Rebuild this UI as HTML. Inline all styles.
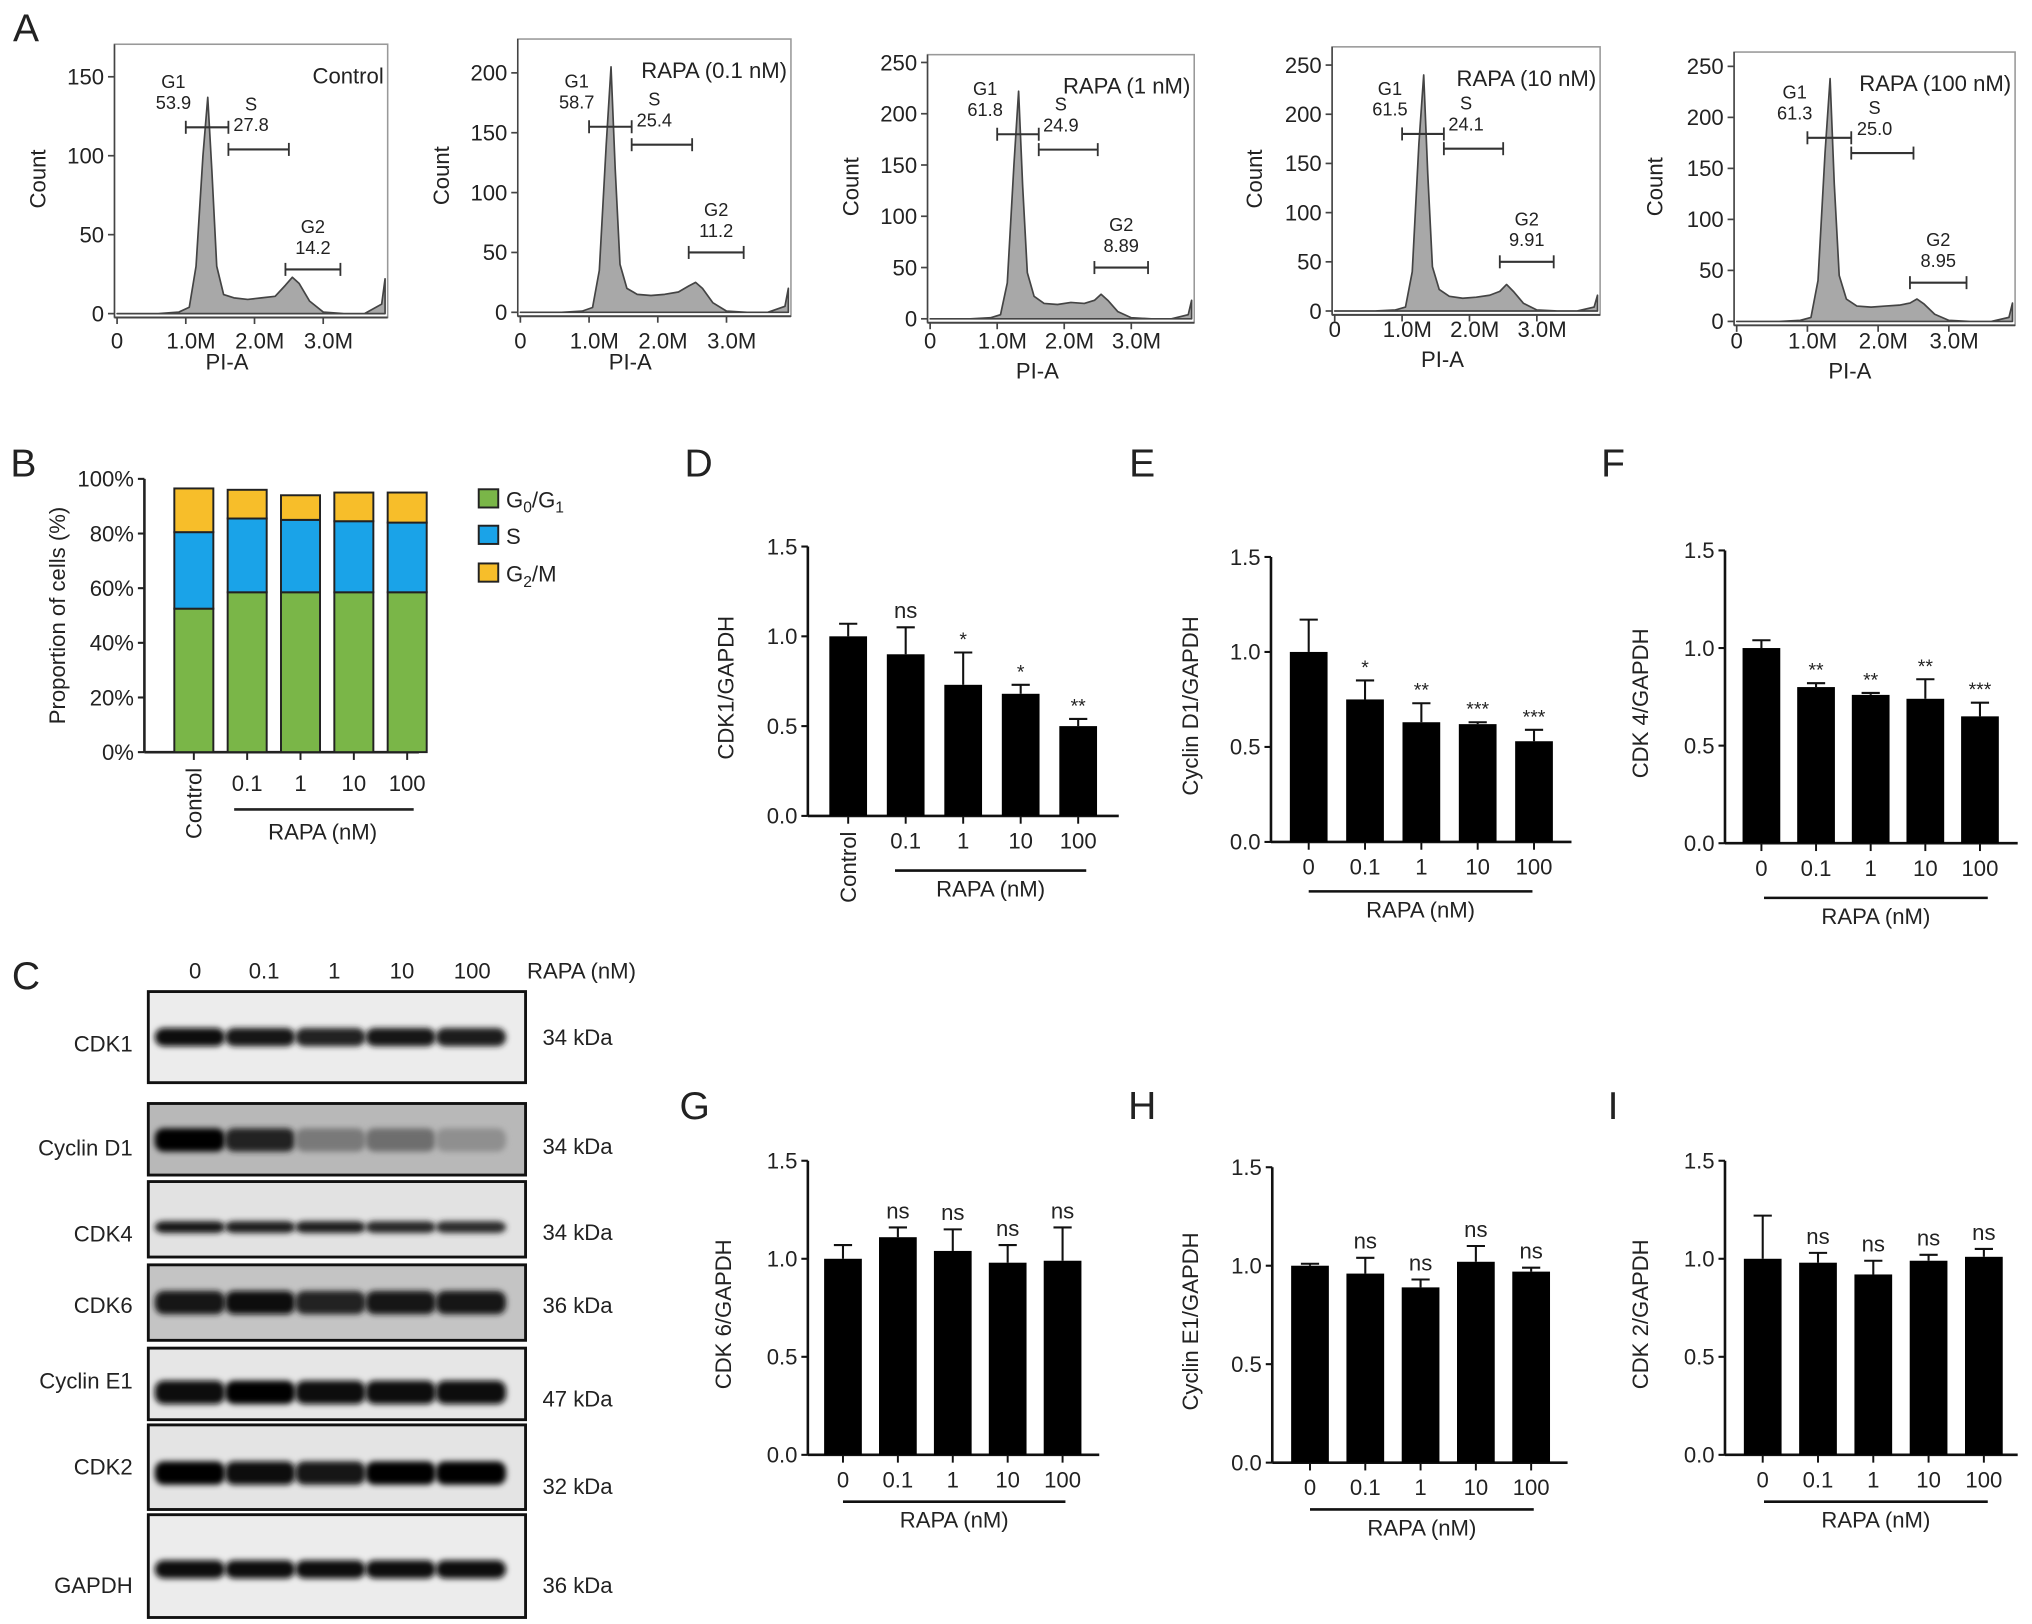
<!DOCTYPE html>
<html><head><meta charset="utf-8"><style>
html,body{margin:0;padding:0;background:#fff}
svg{display:block}
text{font-family:"Liberation Sans",Arial,sans-serif;fill:#222}
</style></head><body>
<svg id="fig" width="2032" height="1624" viewBox="0 0 1562 1248" preserveAspectRatio="none" xmlns="http://www.w3.org/2000/svg">
<defs><filter id="blur" x="-20%" y="-50%" width="140%" height="200%"><feGaussianBlur stdDeviation="2.2"/></filter></defs>
<g id="root"></g>
</svg>
<script>
// ---- Panel A data ----
const piPos = [0,0.6,0.9,1.05,1.15,1.25,1.32,1.38,1.45,1.55,1.7,1.9,2.1,2.3,2.45,2.55,2.65,2.8,3.0,3.3,3.6,3.85,3.9];
const histControl = [0,0,1,4,30,100,137,90,30,12,10,9,10,11,18,23,19,8,1,0,0,6,22];
const hist01 = [0,0,1,4,35,140,205,120,40,20,15,14,15,17,22,25,20,8,1,0,0,5,20];
const hist1 = [0,0,1,4,35,150,222,130,45,22,15,14,16,15,18,24,18,7,1,0,0,4,18];
const hist10 = [0,0,1,4,40,170,240,140,45,22,15,13,14,16,20,27,20,8,1,0,0,4,16];
const hist100 = [0,0,1,4,40,165,238,135,45,22,15,14,15,16,18,22,17,7,1,0,0,4,18];
const histTitles = ["Control","RAPA (0.1 nM)","RAPA (1 nM)","RAPA (10 nM)","RAPA (100 nM)"];
const g1Vals = ["53.9","58.7","61.8","61.5","61.3"];
const sVals = ["27.8","25.4","24.9","24.1","25.0"];
const g2Vals = ["14.2","11.2","8.89","9.91","8.95"];
const histTicks = [[0,50,100,150],[0,50,100,150,200],[0,50,100,150,200,250],[0,50,100,150,200,250],[0,50,100,150,200,250]];
const xTickVals = [0,1,2,3];
const xTickLabels = ["0","1.0M","2.0M","3.0M"];
// ---- Panel B data ----
const bCats = ["Control","0.1","1","10","100"];
const bG1 = [52.5,58.5,58.5,58.5,58.5];
const bS = [28,27,26.5,26,25.5];
const bG2 = [16,10.5,9,10.5,11];
// ---- Bar panels D-I data ----
const doseCats = ["0","0.1","1","10","100"];
const cdk1 = [1.0,0.9,0.73,0.68,0.5], cdk1Err=[0.07,0.15,0.18,0.05,0.04], cdk1Sig=["","ns","*","*","**"];
const cycD1 = [1.0,0.75,0.63,0.62,0.53], cycD1Err=[0.17,0.1,0.1,0.01,0.06], cycD1Sig=["","*","**","***","***"];
const cdk4 = [1.0,0.8,0.76,0.74,0.65], cdk4Err=[0.04,0.02,0.01,0.1,0.07], cdk4Sig=["","**","**","**","***"];
const cdk6 = [1.0,1.11,1.04,0.98,0.99], cdk6Err=[0.07,0.05,0.11,0.09,0.17], cdk6Sig=["","ns","ns","ns","ns"];
const cycE1 = [1.0,0.96,0.89,1.02,0.97], cycE1Err=[0.01,0.08,0.04,0.08,0.02], cycE1Sig=["","ns","ns","ns","ns"];
const cdk2 = [1.0,0.98,0.92,0.99,1.01], cdk2Err=[0.22,0.05,0.07,0.03,0.04], cdk2Sig=["","ns","ns","ns","ns"];
const barTicks = [0,0.5,1.0,1.5];
// ---- Blot data (band darkness 0-1) ----
const blotNames = ["CDK1","Cyclin D1","CDK4","CDK6","Cyclin E1","CDK2","GAPDH"];
const blotKda = ["34 kDa","34 kDa","34 kDa","36 kDa","47 kDa","32 kDa","36 kDa"];
const blotCDK1=[0.95,0.92,0.85,0.92,0.88], blotD1=[1,0.85,0.45,0.5,0.35], blotCDK4=[0.9,0.88,0.88,0.82,0.8], blotCDK6=[0.9,0.95,0.85,0.92,0.9], blotE1=[0.97,0.98,0.95,0.95,0.97], blotCDK2=[0.98,0.95,0.92,0.98,0.98], blotGAPDH=[0.95,0.93,0.93,0.93,0.97];

const NS="http://www.w3.org/2000/svg";
const root=document.getElementById('root');
function el(tag,attrs,parent,txt){const e=document.createElementNS(NS,tag);for(const k in attrs)e.setAttribute(k,attrs[k]);if(txt!==undefined)e.textContent=txt;(parent||root).appendChild(e);return e;}
function txt(x,y,s,size,parent,anchor,extra){const a={x:x,y:y,'font-size':size,'text-anchor':anchor||'middle'};if(extra)for(const k in extra)a[k]=extra[k];return el('text',a,parent,s);}

// panel letters
[["A",20,32],["B",18,366],["C",20,760],["D",537,366],["E",878,366],["F",1240,366],["G",534,860],["H",878,860],["I",1240,860]].forEach(p=>{
  const t=txt(p[1],p[2],p[0],30,root,'middle');
  
  
});

// ---- Panel A ----
const histData=[histControl,hist01,hist1,hist10,hist100];
const histGeom=[
 {l:88,r:298,t:34,y0:241,ymax:150,ytop:59,xl:268,pil:284,cx:35},
 {l:398,r:608,t:30,y0:240,ymax:200,ytop:56,xl:268,pil:284,cx:345},
 {l:713,r:918,t:42,y0:245,ymax:250,ytop:48,xl:268,pil:291,cx:660},
 {l:1024,r:1230,t:36,y0:239,ymax:250,ytop:50,xl:259,pil:282,cx:970},
 {l:1333,r:1549,t:40,y0:247,ymax:250,ytop:51,xl:268,pil:291,cx:1278}];
histGeom.forEach((g,i)=>{
  const G=el('g',{});
  
  
  const pxPerM=(g.r-g.l-4)/3.9;
  const X=v=>g.l+2+v*pxPerM;
  const Y=v=>g.y0-(v/g.ymax)*(g.y0-g.ytop);
  el('rect',{x:g.l,y:g.t,width:g.r-g.l,height:g.y0+3-g.t,fill:'none',stroke:'#999','stroke-width':1.2},G);
  const d=histData[i];
  let p='M'+X(piPos[0])+','+Y(0);
  piPos.forEach((v,k)=>{p+=' L'+X(v).toFixed(1)+','+Y(d[k]).toFixed(1);});
  p+=' L'+X(piPos[piPos.length-1])+','+Y(0)+'Z';
  const path=el('path',{d:p,fill:'#a8a8a8',stroke:'#444','stroke-width':1.3,'stroke-linejoin':'round'},G);
  
  
  el('line',{x1:g.l,y1:g.y0+3,x2:g.r,y2:g.y0+3,stroke:'#444','stroke-width':1.5},G);
  el('line',{x1:g.l,y1:g.t,x2:g.l,y2:g.y0+3,stroke:'#444','stroke-width':1.2},G);
  histTicks[i].forEach(t=>{
    el('line',{x1:g.l-5,y1:Y(t),x2:g.l,y2:Y(t),stroke:'#444','stroke-width':1.3},G);
    txt(g.l-8,Y(t)+6,String(t),17,G,'end');
  });
  xTickVals.forEach((v,k)=>{
    el('line',{x1:X(v),y1:g.y0+3,x2:X(v),y2:g.y0+8,stroke:'#444','stroke-width':1.3},G);
    txt(X(v)+(k?4:0),g.xl,xTickLabels[k],17,G,'middle');
  });
  txt(X(1.6),g.pil,'PI-A',17,G,'middle');
  txt(g.cx,(g.t+g.y0)/2,'Count',17,G,'middle',{transform:'rotate(-90 '+g.cx+' '+(g.t+g.y0)/2+')'});
  txt(g.r-3,g.t+30,histTitles[i],17,G,'end');
  const gy1=Y(i==0?118:(i==1?155:180));
  const gy2=Y(i==0?104:(i==1?140:165)), gy3=Y(i==0?28:(i==1?50:(i==4?38:50)));
  const gate=(a,b,y)=>{el('line',{x1:X(a),y1:y,x2:X(b),y2:y,stroke:'#333','stroke-width':1.6},G);el('line',{x1:X(a),y1:y-5,x2:X(a),y2:y+5,stroke:'#333','stroke-width':1.4},G);el('line',{x1:X(b),y1:y-5,x2:X(b),y2:y+5,stroke:'#333','stroke-width':1.4},G);};
  gate(1.0,1.62,gy1); gate(1.62,2.5,gy2); gate(2.45,3.25,gy3);
  txt(X(0.82),gy1-30,'G1',14,G,'middle'); txt(X(0.82),gy1-14,g1Vals[i],14,G,'middle');
  txt(X(1.95),gy2-30,'S',14,G,'middle'); txt(X(1.95),gy2-14,sVals[i],14,G,'middle');
  txt(X(2.85),gy3-28,'G2',14,G,'middle'); txt(X(2.85),gy3-12,g2Vals[i],14,G,'middle');
});

// ---- Panel B ----
(function(){
  const G=el('g',{});
  
  
  const ax=111,y0=578,y100=368,x0=149,step=41,bw=30;
  const Y=v=>y0-(v/100)*(y0-y100);
  const X=i=>x0+i*step;
  el('line',{x1:ax,y1:y0,x2:322,y2:y0,stroke:'#222','stroke-width':2},G);
  el('line',{x1:ax,y1:y0,x2:ax,y2:y100,stroke:'#222','stroke-width':2},G);
  [0,20,40,60,80,100].forEach(t=>{el('line',{x1:ax-5,y1:Y(t),x2:ax,y2:Y(t),stroke:'#222','stroke-width':1.6},G);txt(ax-8,Y(t)+6,t+'%',17,G,'end');});
  txt(50,473,'Proportion of cells (%)',17,G,'middle',{transform:'rotate(-90 50 473)'});
  const cols=['#7ab648','#1aa3e8','#f7be2a'];
  bCats.forEach((c,i)=>{
    let base=0;
    [[bG1,0,'g0-g1'],[bS,1,'s'],[bG2,2,'g2-m']].forEach(s=>{
      const v=s[0][i];
      const r=el('rect',{x:X(i)-bw/2,y:Y(base+v),width:bw,height:Y(base)-Y(base+v),fill:cols[s[1]],stroke:'#222','stroke-width':1.5},G);
      
      
      base+=v;
    });
    el('line',{x1:X(i),y1:y0,x2:X(i),y2:y0+6,stroke:'#222','stroke-width':1.5},G);
    if(i==0)txt(X(i)+6,y0+12,c,17,G,'end',{transform:'rotate(-90 '+(X(i)+6)+' '+(y0+12)+')'});
    else txt(X(i),y0+30,c,17,G,'middle');
  });
  el('line',{x1:180,y1:622,x2:318,y2:622,stroke:'#222','stroke-width':2},G);
  txt(248,645,'RAPA (nM)',17,G,'middle');
  [383,411,440].forEach((y,k)=>{
    const r=el('rect',{x:368,y:y-7,width:15,height:14,fill:cols[k],stroke:'#222','stroke-width':1.5},G);
    
    
    const t=el('text',{x:389,y:y+7,'font-size':17},G);
    
    
    if(k==0){t.innerHTML='G<tspan font-size="12" dy="4">0</tspan><tspan dy="-4">/G</tspan><tspan font-size="12" dy="4">1</tspan>';}
    else if(k==1){t.textContent='S';}
    else {t.innerHTML='G<tspan font-size="12" dy="4">2</tspan><tspan dy="-4">/M</tspan>';}
  });
})();

// ---- Bar panels ----
function barPanel(name,vals,errs,sigs,g){
  const G=el('g',{});
  
  
  const Y=v=>g.y0-(v/1.5)*(g.y0-g.ytop);
  const X=i=>g.x0+i*g.step;
  const bw=29;
  el('line',{x1:g.ax,y1:g.y0,x2:g.xend,y2:g.y0,stroke:'#111','stroke-width':2},G);
  el('line',{x1:g.ax,y1:g.y0,x2:g.ax,y2:g.ytop,stroke:'#111','stroke-width':2},G);
  barTicks.forEach(t=>{el('line',{x1:g.ax-5,y1:Y(t),x2:g.ax,y2:Y(t),stroke:'#111','stroke-width':1.6},G);txt(g.ax-8,Y(t)+6,t.toFixed(1),17,G,'end');});
  const cy=(g.y0+g.ytop)/2+5;
  txt(g.tx,cy,g.title,17,G,'middle',{transform:'rotate(-90 '+g.tx+' '+cy+')'});
  vals.forEach((v,i)=>{
    const e=errs[i];
    el('line',{x1:X(i),y1:Y(v),x2:X(i),y2:Y(v+e),stroke:'#111','stroke-width':1.6},G);
    el('line',{x1:X(i)-7,y1:Y(v+e),x2:X(i)+7,y2:Y(v+e),stroke:'#111','stroke-width':1.6},G);
    const r=el('rect',{x:X(i)-bw/2,y:Y(v),width:bw,height:g.y0-Y(v),fill:'#000'},G);
    
    
    if(sigs[i]){const s=sigs[i];txt(X(i),Y(v+e)-(s=='ns'?7:5),s,s=='ns'?17:15,G,'middle');}
    el('line',{x1:X(i),y1:g.y0,x2:X(i),y2:g.y0+6,stroke:'#111','stroke-width':1.5},G);
    if(g.control&&i==0)txt(X(i)+6,g.y0+12,'Control',17,G,'end',{transform:'rotate(-90 '+(X(i)+6)+' '+(g.y0+12)+')'});
    else txt(X(i),g.y0+25,doseCats[i],17,G,'middle');
  });
  el('line',{x1:g.l1,y1:g.ly,x2:g.l2,y2:g.ly,stroke:'#111','stroke-width':2},G);
  txt((g.l1+g.l2)/2,g.ly+20,'RAPA (nM)',17,G,'middle');
}
barPanel('chart-cdk1',cdk1,cdk1Err,cdk1Sig,{ax:621,y0:627,ytop:420,x0:652,step:44.2,xend:860,tx:564,title:'CDK1/GAPDH',control:true,l1:688,l2:835,ly:669});
barPanel('chart-cyclin-d1',cycD1,cycD1Err,cycD1Sig,{ax:977,y0:647,ytop:428,x0:1006,step:43.3,xend:1208,tx:921,title:'Cyclin D1/GAPDH',l1:1006,l2:1178,ly:685});
barPanel('chart-cdk4',cdk4,cdk4Err,cdk4Sig,{ax:1326,y0:648,ytop:423,x0:1354,step:42,xend:1551,tx:1267,title:'CDK 4/GAPDH',l1:1356,l2:1528,ly:690});
barPanel('chart-cdk6',cdk6,cdk6Err,cdk6Sig,{ax:621,y0:1118,ytop:892,x0:648,step:42.2,xend:845,tx:562,title:'CDK 6/GAPDH',l1:648,l2:819,ly:1154});
barPanel('chart-cyclin-e1',cycE1,cycE1Err,cycE1Sig,{ax:978,y0:1124,ytop:897,x0:1007,step:42.5,xend:1205,tx:921,title:'Cyclin E1/GAPDH',l1:1007,l2:1179,ly:1160});
barPanel('chart-cdk2',cdk2,cdk2Err,cdk2Sig,{ax:1326,y0:1118,ytop:892,x0:1355,step:42.5,xend:1551,tx:1267,title:'CDK 2/GAPDH',l1:1356,l2:1528,ly:1154});

// ---- Panel C blots ----
(function(){
  const G=el('g',{});
  
  
  const lanes=[146,200,254,308,362];
  doseCats.forEach((c,i)=>txt([150,203,257,309,363][i],752,c,17,G,'middle'));
  txt(447,752,'RAPA (nM)',17,G,'middle');
  const boxes=[[762,832,797,802,797],[848,903,876,882,881],[908,966,943,948,947],[972,1030,1001,1003,1003],[1036,1091,1070,1061,1075],[1095,1160,1132,1127,1142],[1164,1243,1206,1218,1218]];
  const blotVals=[blotCDK1,blotD1,blotCDK4,blotCDK6,blotE1,blotCDK2,blotGAPDH];
  const bg=['#ececec','#b8b8b8','#e2e2e2','#c4c4c4','#e6e6e6','#e4e4e4','#ececec'];
  const hts=[14,18,9,18,18,18,14];
  boxes.forEach((b,k)=>{
    const bx=el('g',{},G);
    
    
    el('rect',{x:114,y:b[0],width:290,height:b[1]-b[0],fill:bg[k]},bx);
    blotVals[k].forEach((v,i)=>{
      const c=Math.round(220*(1-v));
      el('rect',{x:lanes[i]-27,y:b[2]-hts[k]/2,width:54,height:hts[k],rx:7,fill:'rgb('+c+','+c+','+c+')',filter:'url(#blur)'},bx);
    });
    el('rect',{x:114,y:b[0],width:290,height:b[1]-b[0],fill:'none',stroke:'#111','stroke-width':2.2},bx);
    txt(102,b[3]+6,blotNames[k],17,G,'end');
    txt(417,b[4]+6,blotKda[k],17,G,'start');
  });
})();
</script>
</body></html>
